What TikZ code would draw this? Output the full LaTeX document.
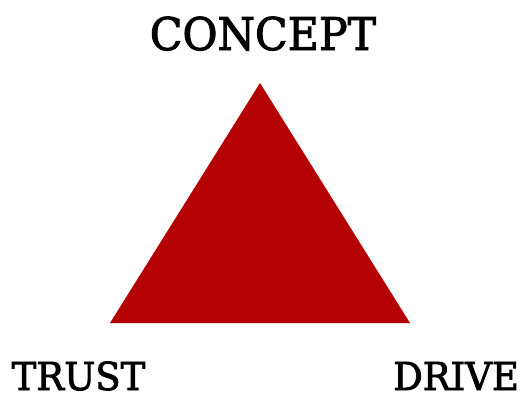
\documentclass[tikz,border=0pt]{standalone}
\usepackage{fontspec}
\newfontfamily\lblfont[RawFeature={embolden=2.2}]{DejaVu Serif}
\definecolor{trired}{HTML}{B40000}
\begin{document}
\begin{tikzpicture}[x=1pt,y=-1pt,
  lbl/.style={inner sep=0pt,anchor=base,text depth=0pt,font=\lblfont\fontsize{38.5}{38.5}\selectfont}]
\useasboundingbox (0,0) rectangle (527,394);
\coordinate (A) at (260,83);
\coordinate (B) at (110,323);
\coordinate (C) at (410,323);
\fill[trired] (A) -- (B) -- (C) -- cycle;
\node[lbl,font=\lblfont\fontsize{45}{45}\selectfont,xscale=0.95] (concept) at (263,50) {CONCEPT};
\node[lbl,xscale=0.96] (trust) at (78.5,390) {TRUST};
\node[lbl,xscale=0.96] (drive) at (456,390) {DRIVE};
\end{tikzpicture}
\end{document}
